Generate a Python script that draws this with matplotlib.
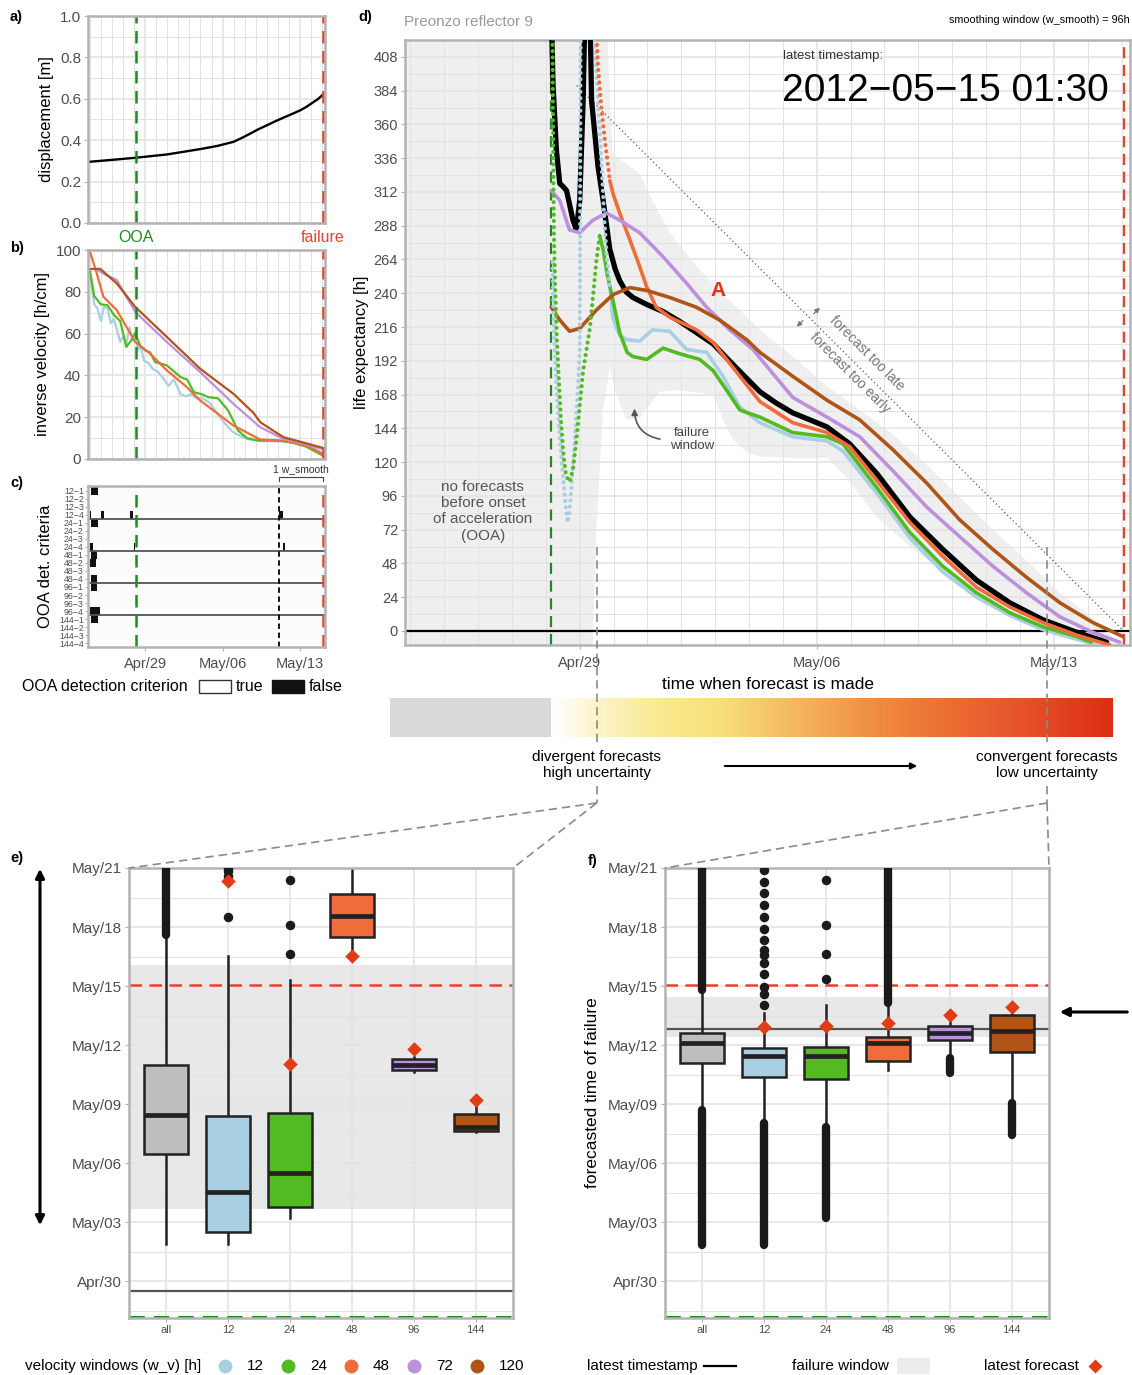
"""Preonzo reflector 9: inverse velocity, life expectancy and forecasted failure time."""
import matplotlib
matplotlib.use("Agg")
import matplotlib.pyplot as plt
import numpy as np
from matplotlib.colors import LinearSegmentedColormap
from matplotlib.patches import Rectangle

plt.rcParams['font.family'] = ['Liberation Sans', 'DejaVu Sans']

# ---------------------------------------------------------------- data
# time axis: days since 2012-04-29 00:00
OOA = -0.85
FAIL = 16.06                      # 2012-05-15 01:30
W_SMOOTH = 4.0                    # 96 h
XLIM = (-5.16, 16.25)
date_ticks = [0, 7, 14]
date_labels = ['Apr/29', 'May/06', 'May/13']

# a) displacement
disp_days = [-4.97, -3.0, -0.9, 1.96, 4.97, 6.5, 7.98, 8.7, 9.5, 10.2, 11.0, 11.7, 12.5, 13.2,
             14.0, 14.6, 15.2, 15.6, 16.06]
disp_m = [0.296, 0.305, 0.315, 0.331, 0.357, 0.372, 0.392, 0.41, 0.432, 0.452, 0.472, 0.49,
          0.509, 0.525, 0.544, 0.562, 0.584, 0.598, 0.62]

# b) inverse velocity [h/cm] per velocity window
iv_days = {
    12: [-4.97, -4.6, -4.3, -4.0, -3.7, -3.4, -3.1, -2.85, -2.55, -2.25, -1.95, -1.7, -1.4, -1.15,
         -0.9, -0.65, -0.4, -0.1, 0.3, 0.7, 1.1, 1.6, 2.1, 2.6, 3.2, 3.7, 4.1, 4.6, 5.2, 5.8,
         6.5, 7.2, 7.9, 8.6, 9.3, 10.0, 10.8, 11.6, 12.5, 13.5, 14.5, 15.3, 16.06],
    24: [-4.97, -4.6, -4.0, -3.4, -2.8, -2.25, -1.7, -1.25, -0.9, -0.45, 0.0, 0.45, 0.9, 1.96,
         3.2, 3.8, 4.4, 5.1, 5.7, 6.6, 7.5, 8.4, 9.2, 10.2, 11.6, 12.5, 13.5, 14.5, 15.4, 16.06],
    48: [-4.97, -4.37, -3.77, -2.56, -0.9, 0.45, 1.96, 3.77, 4.97, 7.98, 10.4, 12.5, 14.5, 16.06],
    72: [-4.5, -3.5, -2.56, -0.9, 1.96, 4.97, 7.98, 10.4, 12.5, 14.5, 16.06],
    120: [-4.97, -4.07, -2.56, -0.9, 1.96, 4.97, 7.98, 9.8, 10.4, 12.5, 14.0, 16.06],
}
iv_vals = {
    12: [88, 74, 72, 66, 73, 72, 65, 67, 62, 56, 59, 55, 63, 57,
         61, 52, 54, 47, 46, 43, 42, 39, 35, 38, 31, 30, 31, 29, 29, 27,
         22, 17, 13, 11, 9.5, 9, 8.5, 8.5, 8.3, 8, 6.5, 5, 3],
    24: [89.6, 78, 74, 73.6, 68.8, 66, 53.6, 56.8, 60, 54.4, 52, 51, 46.4, 44.8,
         39.2, 38, 32, 31, 29.6, 29, 23.2, 13.6, 10, 8.8, 8.8, 8.6, 7.5, 6, 3.5, 1.6],
    48: [99, 88.8, 77.6, 71.2, 56, 50.4, 42.4, 34.4, 28, 16, 9.3, 8.8, 6.5, 2.4],
    72: [91, 88, 85.6, 70.4, 56, 41.6, 26.4, 15.2, 9.6, 7, 4.8],
    120: [90.9, 91, 84, 72.8, 58.4, 43.2, 31.2, 22, 17.6, 10.4, 8.3, 5.3],
}

# c) OOA detection criteria: intervals where the criterion is false
criteria = ['12\u22121', '12\u22122', '12\u22123', '12\u22124', '24\u22121', '24\u22122', '24\u22123',
            '24\u22124', '48\u22121', '48\u22122', '48\u22123', '48\u22124', '96\u22121', '96\u22122',
            '96\u22123', '96\u22124', '144\u22121', '144\u22122', '144\u22123', '144\u22124']
false_spans = [
    [(-4.88, -4.25)], [], [],
    [(-4.97, -4.88), (-3.97, -3.75), (-1.36, -1.08), (12.1, 12.47)],
    [(-4.88, -4.25)], [], [],
    [(-4.97, -4.75), (-0.99, -0.9), (12.47, 12.65)],
    [(-4.88, -4.34)], [(-4.97, -4.43)], [], [(-4.88, -4.34)],
    [(-4.88, -4.34)], [], [], [(-4.97, -4.07)],
    [(-4.88, -4.25)], [], [], [],
]

# d) life expectancy [h]
all_days = [-0.84, -0.79, -0.69, -0.59, -0.5, -0.39, -0.2, -0.1, 0.0, 0.1, 0.18, 0.28, 0.35, 0.54,
            0.69, 0.89, 1.05, 1.18, 1.37, 1.57, 1.98, 2.46, 2.95, 3.45, 3.94, 4.5, 5.32, 5.8,
            6.29, 6.8, 7.3, 7.97, 8.77, 9.75, 10.72, 11.72, 12.7, 13.67, 14.68, 15.56]
all_h = [440, 389, 342, 318, 316, 313, 292, 285, 306, 377, 470, 470, 377, 330,
         306, 271, 257, 249, 241, 237, 232, 227, 220, 212, 204, 190, 170, 162,
         155, 150, 145, 133, 112, 81, 58, 36, 20, 8, -1, -8]

le_days = {
    12: [0.89, 0.98, 1.18, 1.38, 1.77, 2.15, 2.66, 3.16, 3.75, 4.23, 4.73, 5.32, 6.29, 7.3, 7.77,
         8.77, 9.75, 10.72, 11.72, 12.7, 13.67, 14.68, 15.3],
    24: [0.59, 0.7, 0.8, 0.98, 1.18, 1.4, 1.57, 1.98, 2.46, 2.95, 3.54, 3.94, 4.34, 4.73, 5.32,
         6.29, 7.3, 7.77, 8.77, 9.75, 10.72, 11.72, 12.7, 13.67, 14.68, 15.1],
    48: [0.89, 0.98, 1.18, 1.48, 1.77, 1.97, 2.26, 2.66, 3.45, 3.94, 4.5, 5.32, 6.29, 7.3, 7.97,
         8.77, 9.75, 10.72, 11.72, 12.7, 13.67, 14.68, 15.65],
    72: [-0.84, -0.59, -0.3, 0.0, 0.39, 0.79, 1.18, 1.77, 2.46, 3.16, 3.75, 4.43, 5.12, 5.32,
         6.29, 7.3, 8.27, 9.24, 10.25, 11.22, 12.2, 13.2, 14.18, 15.15, 15.95],
    120: [-0.84, -0.59, -0.3, 0.0, 0.49, 0.98, 1.48, 1.98, 2.66, 3.45, 4.13, 4.93, 5.32, 6.29,
          7.3, 8.27, 9.24, 10.25, 11.22, 12.2, 13.2, 14.18, 15.15, 16.04],
}
le_h = {
    12: [245, 222, 210, 207, 206, 214, 213, 200, 198, 181, 159, 148, 138, 135, 128,
         98, 66, 42, 24, 11, 1, -6, -10],
    24: [281, 270, 255, 235, 212, 198, 195, 193, 201, 197, 193, 185, 171, 157, 152,
         141, 138, 133, 102, 70, 46, 27, 13, 3, -4, -8],
    48: [320, 311, 297, 278, 259, 245, 230, 223, 214, 205, 188, 163, 148, 141, 131,
         107, 77, 53, 31, 17, 6, -3, -10],
    72: [313, 306, 285, 283, 292, 297, 292, 283, 266, 247, 230, 214, 200, 194,
         166, 152, 138, 114, 88, 67, 46, 27, 10, -1, -8],
    120: [230, 221, 213, 215, 228, 239, 244, 242, 237, 230, 221, 207, 198, 181,
          164, 150, 129, 105, 79, 58, 38, 20, 6, -4],
}
# sparse (steep) parts of the forecasts, shown as dots
dot_days = {
    12: [[-0.8, -0.78, -0.74, -0.68, -0.6, -0.5, -0.42, -0.36, -0.3, -0.24, -0.15, -0.06, 0.0,
          0.01, 0.02, 0.03],
         [0.45, 0.5, 0.6, 0.66, 0.72, 0.8, 0.89]],
    24: [[-0.81, -0.8, -0.78, -0.76, -0.72, -0.68, -0.62, -0.55, -0.48, -0.4, -0.3, -0.2, -0.1,
          0.0, 0.1, 0.2, 0.3, 0.4, 0.5, 0.59]],
    48: [[0.49, 0.54, 0.64, 0.74, 0.84, 0.89]],
}
dot_h = {
    12: [[262, 230, 200, 170, 140, 112, 90, 77, 85, 105, 135, 170, 200, 280, 380, 440],
         [420, 395, 350, 325, 295, 265, 245]],
    24: [[430, 410, 330, 280, 240, 210, 180, 148, 125, 110, 106, 115, 135, 160, 185, 200, 215,
          240, 265, 281]],
    48: [[430, 401, 372, 349, 330, 320]],
}

# failure window (life expectancy band)
fw_lo_days = [-5.3, 0.38, 0.49, 0.68, 0.89, 1.05, 1.38, 1.77, 2.36, 2.95, 3.94, 4.23, 4.53, 4.93,
              5.32, 6.29, 7.3, 7.77, 8.77, 9.75, 10.72, 11.72, 12.7, 13.67, 14.68, 16.06]
fw_lo_h = [-12, -12, 72, 155, 188, 170, 150, 151, 170, 171, 168, 150, 136, 127,
           124, 123, 123, 112, 81, 60, 43, 27, 15, 6, -4, -12]
fw_hi_days = [-5.3, 0.8, 0.97, 1.27, 1.77, 2.15, 2.66, 3.45, 4.43, 5.32, 6.29, 7.3, 8.27, 9.24,
              10.25, 11.22, 12.2, 13.2, 14.13, 15.1, 16.06]
fw_hi_h = [430, 430, 337, 334, 325, 306, 283, 259, 235, 214, 195, 174, 157, 140,
           118, 95, 72, 50, 28, 10, -12]

# colour strip (uncertainty gradient from OOA onwards)
strip_stops = [0.0, 0.08, 0.2, 0.3, 0.45, 0.58, 0.7, 0.85, 1.0]
strip_colors = ['#ffffff', '#fdf3c8', '#f9e98c', '#f7e07c', '#f3b35c', '#ef8c40', '#ec7033',
                '#e4502a', '#dc2e14']

# e), f) forecasted time of failure (days since Apr 29) per velocity window
box_names = ['all', '12', '24', '48', '96', '144']
box_colors = ['#bebebe', '#a9cfe2', '#52bb24', '#f06c3b', '#bb91dc', '#b05418']
e_latest = 0.5
e_window = (4.66, 17.07)
e_q1 = [7.46, 3.51, 4.78, 18.51, 11.73, 8.65]
e_med = [9.44, 5.55, 6.51, 19.56, 12.0, 8.82]
e_q3 = [11.98, 9.41, 9.53, 20.66, 12.27, 9.49]
e_lo = [2.87, 2.87, 4.22, 17.58, 11.65, 8.56]
e_hi = [18.59, 17.53, 16.31, 22.5, 12.4, 9.87]
e_fliers = [[], [19.52, 21.6, 21.85, 22.0], [17.63, 19.12, 21.39], [], [], []]
e_dense = [[(18.59, 22.0)], [], [], [], [], []]
e_latest_fc = [None, 21.34, 12.02, 17.55, 12.8, 10.22]

f_latest = 13.8
f_window = (13.42, 15.46)
f_q1 = [12.07, 11.39, 11.27, 12.2, 13.26, 12.66]
f_med = [13.09, 12.46, 12.44, 13.12, 13.63, 13.71]
f_q3 = [13.59, 12.87, 12.89, 13.42, 13.98, 14.53]
f_lo = [9.7, 9.02, 8.85, 11.73, 12.32, 10.04]
f_hi = [15.8, 14.61, 15.04, 15.12, 14.3, 14.95]
f_fliers = [[], [15.04, 15.59, 15.97, 16.61, 17.15, 17.58, 17.83, 18.34, 18.92, 19.53, 20.12,
                 20.71, 21.31, 21.9],
            [16.34, 17.63, 19.12, 21.39], [], [], []]
f_dense = [[(15.8, 22.0), (2.83, 9.7)], [(2.83, 9.02)], [(4.19, 8.85)], [(15.12, 22.0)],
           [(11.56, 12.32)], [(8.43, 10.04)]]
f_latest_fc = [None, 13.93, 13.97, 14.14, 14.54, 14.95]

box_ticks = [1, 4, 7, 10, 13, 16, 19, 22]
box_labels = ['Apr/30', 'May/03', 'May/06', 'May/09', 'May/12', 'May/15', 'May/18', 'May/21']

legend_windows = [12, 24, 48, 72, 120]

# ---------------------------------------------------------------- style
win_colors = {12: '#a9cfe2', 24: '#52bb24', 48: '#f06c3b', 72: '#bb91dc', 120: '#b05418'}
FRAME = '#b3b3b3'
GRID = '#e2e2e2'
TICK = '#4d4d4d'
GREEN = '#1f8a1f'
RED = '#e8432a'
DIAMOND = '#e03c16'

W, H = 1132, 1375
fig = plt.figure(figsize=(W / 100, H / 100), dpi=100)


def add_ax(x0, y0, x1, y1):
    return fig.add_axes([x0 / W, 1 - y1 / H, (x1 - x0) / W, (y1 - y0) / H])


def style(ax, size=11, grid=True):
    for s in ax.spines.values():
        s.set_color(FRAME)
        s.set_linewidth(1.8)
    ax.tick_params(labelcolor=TICK, labelsize=size, length=3, color=FRAME, pad=2)
    ax.tick_params(which='minor', length=0)
    if grid:
        ax.grid(which='major', color=GRID, lw=1.1)
        ax.grid(which='minor', color=GRID, lw=0.7)


def time_axis(ax):
    ax.set_xlim(XLIM)
    ax.set_xticks(date_ticks)
    ax.set_xticks(np.arange(-5, 17), minor=True)


# ---------------------------------------------------------------- a)
ax_a = add_ax(88, 16, 325, 223)
style(ax_a)
time_axis(ax_a)
ax_a.set_xticklabels([])
ax_a.tick_params(axis='x', length=0)
ax_a.set_ylim(0, 1)
ax_a.set_yticks(np.arange(0, 1.01, 0.2))
ax_a.set_yticks(np.arange(0.1, 1, 0.2), minor=True)
ax_a.plot(disp_days, disp_m, color='k', lw=1.7)
ax_a.axvline(OOA, color=GREEN, lw=1.8, ls=(0, (5, 3)))
ax_a.axvline(FAIL, color=RED, lw=1.8, ls=(0, (5, 3)))
ax_a.set_ylabel('displacement [m]', fontsize=12)
ax_a.text(OOA, -0.035, 'OOA', color=GREEN, ha='center', va='top', fontsize=11.5)
ax_a.text(FAIL, -0.035, 'failure', color=RED, ha='center', va='top', fontsize=11.5)

# ---------------------------------------------------------------- b)
ax_b = add_ax(88, 250, 325, 459)
style(ax_b)
time_axis(ax_b)
ax_b.set_xticklabels([])
ax_b.tick_params(axis='x', length=0)
ax_b.set_ylim(0, 100)
ax_b.set_yticks(np.arange(0, 101, 20))
ax_b.set_yticks(np.arange(10, 100, 20), minor=True)
for w in [12, 24, 48, 72, 120]:
    ax_b.plot(iv_days[w], iv_vals[w], color=win_colors[w], lw=1.6)
ax_b.axvline(OOA, color=GREEN, lw=1.8, ls=(0, (5, 3)))
ax_b.axvline(FAIL, color=RED, lw=1.8, ls=(0, (5, 3)))
ax_b.set_ylabel('inverse velocity [h/cm]', fontsize=12)

# ---------------------------------------------------------------- c)
ax_c = add_ax(88, 486, 325, 647)
style(ax_c, size=10.5, grid=False)
ax_c.set_facecolor('#fcfcfc')
time_axis(ax_c)
ax_c.tick_params(axis='x', which='minor', length=0)
ax_c.tick_params(axis='x', pad=4)
ax_c.set_xticklabels(date_labels)
ax_c.set_ylim(19.5, -0.625)
ax_c.set_yticks(range(len(criteria)))
ax_c.set_yticklabels(criteria, fontsize=6.3)
ax_c.tick_params(axis='y', pad=1, length=2)
for i, spans in enumerate(false_spans):
    if spans:
        ax_c.broken_barh([(s, e - s) for s, e in spans], (i - 0.5, 1), facecolors='#111111')
for sep in [3.5, 7.5, 11.5, 15.5]:
    ax_c.axhline(sep, color='#555555', lw=1.3)
ax_c.axvline(OOA, color=GREEN, lw=1.8, ls=(0, (5, 3)))
ax_c.axvline(FAIL, color=RED, lw=1.8, ls=(0, (5, 3)))
ax_c.axvline(FAIL - W_SMOOTH, color='k', lw=1.3, ls=(0, (3, 2)))
ax_c.set_ylabel('OOA det. criteria', fontsize=12, labelpad=4)
ax_c.plot([FAIL - W_SMOOTH, FAIL - W_SMOOTH, FAIL, FAIL], [-1.2, -1.75, -1.75, -1.2],
          color='#444444', lw=0.8, clip_on=False)
ax_c.text(FAIL - W_SMOOTH / 2, -2.1, '1 w_smooth', ha='center', va='bottom', fontsize=7.5,
          color='#333333', clip_on=False)

# ---------------------------------------------------------------- d)
ax_d = add_ax(405, 40, 1130, 645)
style(ax_d, size=10.5)
time_axis(ax_d)
ax_d.tick_params(axis='x', pad=5)
ax_d.set_xticklabels(date_labels)
ax_d.set_ylim(-10, 420)
ax_d.set_yticks(np.arange(0, 409, 24))
ax_d.set_yticks(np.arange(12, 420, 24), minor=True)
ax_d.fill(np.r_[fw_lo_days, fw_hi_days[::-1]], np.r_[fw_lo_h, fw_hi_h[::-1]],
          color='#efefef', lw=0, zorder=1)
ax_d.axhline(0, color='k', lw=1.6, zorder=2)
ax_d.axvline(OOA, color=GREEN, lw=1.6, ls=(0, (5, 3)), zorder=2)
ax_d.axvline(FAIL, color=RED, lw=1.6, ls=(0, (5, 3)), zorder=2)
ax_d.plot([-0.09, FAIL], [(FAIL + 0.09) * 24, 0], color='#555555', lw=0.9, ls=(0, (1, 2.2)),
          zorder=2)
ax_d.plot(all_days, all_h, color='k', lw=3.8, solid_capstyle='round', zorder=3)
for w in [12, 24, 48, 72, 120]:
    ax_d.plot(le_days[w], le_h[w], color=win_colors[w], lw=2.6, solid_capstyle='round', zorder=4)
for w, parts in dot_days.items():
    for dd, hh in zip(parts, dot_h[w]):
        ax_d.plot(dd, hh, color=win_colors[w], lw=3.0, ls=(0, (0.01, 1.5)),
                  dash_capstyle='round', zorder=5)
ax_d.set_ylabel('life expectancy [h]', fontsize=12, labelpad=3)
ax_d.set_xlabel('time when forecast is made', fontsize=12.5, labelpad=5)

ax_d.text(6.0, 413, 'latest timestamp:', fontsize=9.5, color='#333333', ha='left', va='top')
ax_d.text(5.97, 384, '2012\u221205\u221215 01:30', fontsize=28, color='k', ha='left',
          va='center')
ax_d.text(4.08, 242, 'A', color='#e2301c', fontsize=15, fontweight='bold', ha='center',
          va='center')
ax_d.text(-2.86, 85, 'no forecasts\nbefore onset\nof acceleration\n(OOA)', color='#555555',
          fontsize=11, ha='center', va='center', linespacing=1.2)
ax_d.text(3.31, 136, 'failure\nwindow', color='#444444', fontsize=9.5, ha='center', va='center',
          linespacing=1.1)
ax_d.annotate('', xy=(1.62, 160), xytext=(2.45, 136),
              arrowprops=dict(arrowstyle='-|>', color='#555555', lw=1.2,
                              connectionstyle='arc3,rad=-0.45', mutation_scale=9))
ax_d.text(8.48, 197, 'forecast too late', color='#777777', fontsize=10, rotation=-45,
          rotation_mode='anchor', ha='center', va='center')
ax_d.text(7.97, 183, 'forecast too early', color='#777777', fontsize=10, rotation=-45,
          rotation_mode='anchor', ha='center', va='center')
ax_d.annotate('', xy=(7.15, 231.2), xytext=(6.85, 224),
              arrowprops=dict(arrowstyle='-|>', color='#777777', lw=0.9, mutation_scale=7))
ax_d.annotate('', xy=(6.35, 214.8), xytext=(6.65, 222),
              arrowprops=dict(arrowstyle='-|>', color='#777777', lw=0.9, mutation_scale=7))

# ---------------------------------------------------------------- colour strip
ax_s = add_ax(390, 698, 1113, 737)
s_lo = XLIM[0] - (405 - 390) / 33.86
s_hi = 15.74
ax_s.set_xlim(s_lo, s_hi)
ax_s.set_ylim(0, 1)
ax_s.axis('off')
ax_s.add_patch(Rectangle((s_lo, 0), OOA - s_lo, 1, color='#d9d9d9', lw=0))
strip_cmap = LinearSegmentedColormap.from_list('strip', list(zip(strip_stops, strip_colors)))
ax_s.imshow(np.linspace(0, 1, 512)[None, :], cmap=strip_cmap, aspect='auto',
            extent=(OOA + 0.03, s_hi, 0, 1))

# ---------------------------------------------------------------- e), f)


def box_panel(ax, q1, med, q3, lo, hi, fliers, dense, latest_fc, latest, window):
    style(ax, size=11)
    pos = np.arange(1, len(box_names) + 1)
    ax.axhspan(window[0], window[1], color='#e8e8e8', lw=0, zorder=0.5)
    ax.axhline(FAIL, color=RED, lw=1.8, ls=(0, (5, 3)), zorder=2)
    ax.axhline(OOA, color=GREEN, lw=2.2, ls=(0, (5, 3)), zorder=2)
    ax.axhline(latest, color='#555555', lw=1.6, zorder=2)
    stats = [dict(q1=a, med=b, q3=c, whislo=d, whishi=e, fliers=[])
             for a, b, c, d, e in zip(q1, med, q3, lo, hi)]
    bp = ax.bxp(stats, positions=pos, widths=0.72, patch_artist=True, showfliers=False,
                showcaps=False, manage_ticks=False,
                boxprops=dict(edgecolor='#222222', lw=1.8),
                whiskerprops=dict(color='#222222', lw=1.8),
                medianprops=dict(color='#222222', lw=3.4, solid_capstyle='butt'))
    for patch, c in zip(bp['boxes'], box_colors):
        patch.set_facecolor(c)
        patch.set_zorder(3)
    for m in bp['medians']:
        m.set_zorder(3.5)
    for p, fl, dn in zip(pos, fliers, dense):
        if fl:
            ax.scatter([p] * len(fl), fl, s=34, color='#1a1a1a', zorder=4, clip_on=True)
        for a, b in dn:
            ax.plot([p, p], [a, b], color='#1a1a1a', lw=6, solid_capstyle='round', zorder=4)
    for p, v in zip(pos, latest_fc):
        if v is not None:
            ax.scatter(p, v, marker='D', s=55, color=DIAMOND, zorder=6, lw=0)
    ax.set_xlim(0.4, 6.6)
    ax.set_ylim(-0.88, 22.0)
    ax.set_xticks(pos)
    ax.set_xticklabels(box_names, fontsize=8)
    ax.set_yticks(box_ticks)
    ax.set_yticklabels(box_labels)
    ax.set_yticks(list(np.array(box_ticks[:-1]) + 1.5) + [-0.5], minor=True)


ax_e = add_ax(129, 868, 513, 1318)
box_panel(ax_e, e_q1, e_med, e_q3, e_lo, e_hi, e_fliers, e_dense, e_latest_fc, e_latest,
          e_window)
ax_f = add_ax(665, 868, 1049, 1318)
box_panel(ax_f, f_q1, f_med, f_q3, f_lo, f_hi, f_fliers, f_dense, f_latest_fc, f_latest,
          f_window)
ax_f.set_ylabel('forecasted time of failure', fontsize=12.5, labelpad=6)

# ---------------------------------------------------------------- overlay (pixel coordinates)
ov = fig.add_axes([0, 0, 1, 1])
ov.set_xlim(0, W)
ov.set_ylim(H, 0)
ov.axis('off')
ov.patch.set_visible(False)


def d_px(day, h):
    x, y = ax_d.transData.transform((day, h))
    return x, H - y


dash = dict(color='#8a8a8a', lw=1.2, ls=(0, (5, 3)))
for t, ax_box in [(e_latest, ax_e), (f_latest, ax_f)]:
    x, y0 = d_px(t, 60)
    ov.plot([x, x], [y0, 745], **dash)
    ov.plot([x, x], [786, 803], **dash)
    bx0, by0 = ax_box.transAxes.transform((0, 1))
    bx1, _ = ax_box.transAxes.transform((1, 1))
    ov.plot([x, bx0], [803, H - by0], **dash)
    ov.plot([x, bx1], [803, H - by0], **dash)

xe, _ = d_px(e_latest, 0)
xf, _ = d_px(f_latest, 0)
ov.text(xe, 765, 'divergent forecasts\nhigh uncertainty', ha='center', va='center',
        fontsize=11, linespacing=1.1)
ov.text(xf, 765, 'convergent forecasts\nlow uncertainty', ha='center', va='center',
        fontsize=11, linespacing=1.1)
ov.annotate('', xy=(920, 766), xytext=(722, 766),
            arrowprops=dict(arrowstyle='-|>', color='k', lw=1.5, mutation_scale=9))

ov.text(404, 22, 'Preonzo reflector 9', color='#999999', fontsize=11, va='center', ha='left')
ov.text(1130, 20, 'smoothing window (w_smooth) = 96h', fontsize=7.8, va='center', ha='right')

for lab, (x, y) in {'a)': (10, 17), 'b)': (10, 248), 'c)': (10, 483), 'd)': (358, 17),
                    'e)': (10, 858), 'f)': (588, 861)}.items():
    ov.text(x, y, lab, fontsize=10.5, fontweight='bold', va='center', ha='left')

# arrows beside e) and f)
ov.annotate('', xy=(40, 1228), xytext=(40, 866),
            arrowprops=dict(arrowstyle='<|-|>', color='k', lw=2.2, mutation_scale=13))
ov.annotate('', xy=(1057, 1012), xytext=(1130, 1012),
            arrowprops=dict(arrowstyle='-|>', color='k', lw=2.2, mutation_scale=13))

# legend under c)
ov.text(22, 686, 'OOA detection criterion', fontsize=11.5, va='center')
ov.add_patch(Rectangle((199, 680), 32, 13, facecolor='white', edgecolor='#333333', lw=1))
ov.text(236, 686, 'true', fontsize=11.5, va='center')
ov.add_patch(Rectangle((272, 680), 32, 13, facecolor='#111111', edgecolor='#111111', lw=1))
ov.text(309, 686, 'false', fontsize=11.5, va='center')

# bottom legend
yl = 1366
ov.text(25, yl, 'velocity windows (w_v) [h]', fontsize=11, va='center')
lx = 225
for w in legend_windows:
    ov.plot(lx, yl, 'o', ms=10, color=win_colors[w], mec='none')
    ov.text(lx + 22, yl, str(w), fontsize=11, va='center')
    lx += 63
ov.text(587, yl, 'latest timestamp', fontsize=11, va='center')
ov.plot([704, 736], [yl, yl], color='k', lw=1.6)
ov.text(792, yl, 'failure window', fontsize=11, va='center')
ov.add_patch(Rectangle((897, yl - 8), 33, 16, color='#ececec', lw=0))
ov.text(984, yl, 'latest forecast', fontsize=11, va='center')
ov.plot(1095, yl, 'D', ms=7.5, color=DIAMOND, mec='none')

fig.savefig('out.png', dpi=100)
